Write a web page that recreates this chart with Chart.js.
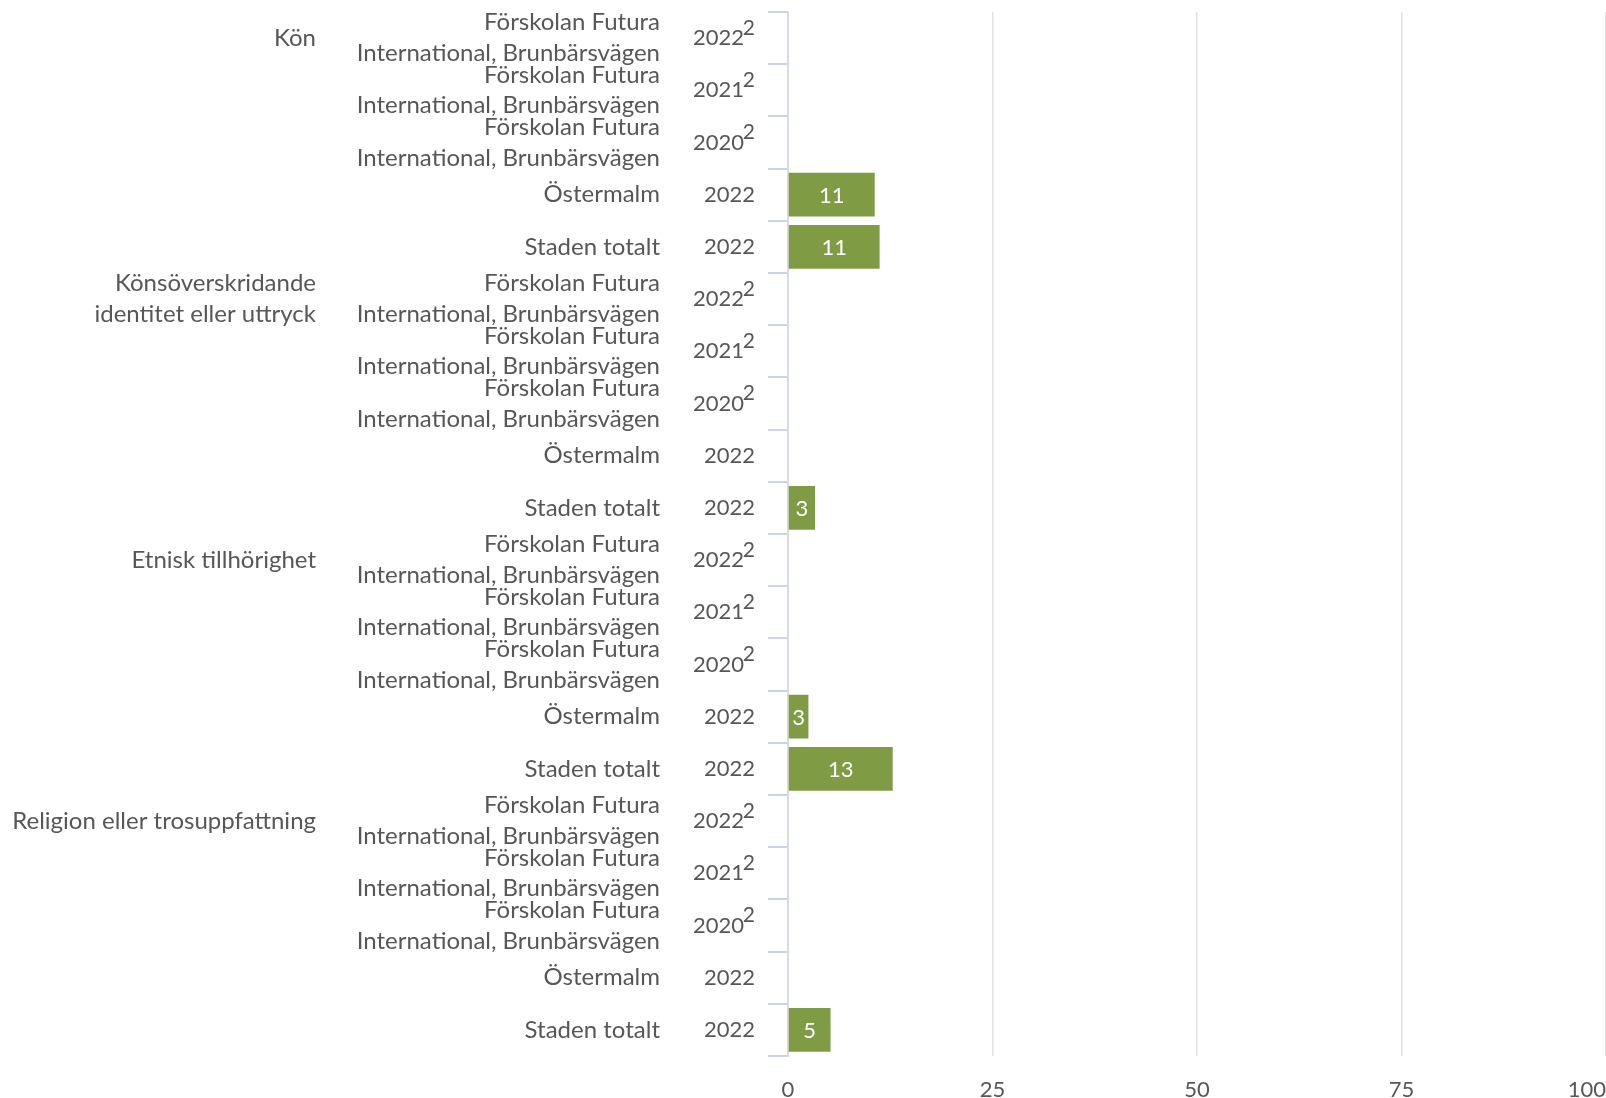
<!DOCTYPE html>
<html>
<head>
<meta charset="utf-8">
<script src="https://cdn.jsdelivr.net/npm/chart.js@4.4.1/dist/chart.umd.min.js"></script>
<style>
    html, body { margin: 0; padding: 0; background: #fff; }
    #wrap { width: 1606px; height: 1098px; }
</style>
</head>
<body>
<div id="wrap"><canvas id="diskriminering-chart"></canvas></div>
<script>
/* Data */
const groupLabels = ['Kön', ['Könsöverskridande', 'identitet eller uttryck'], 'Etnisk tillhörighet', 'Religion eller trosuppfattning'];
const unitLabels = [
    ['Förskolan Futura', 'International, Brunbärsvägen'],
    ['Förskolan Futura', 'International, Brunbärsvägen'],
    ['Förskolan Futura', 'International, Brunbärsvägen'],
    'Östermalm',
    'Staden totalt'
];
const yearLabels = ['2022²', '2021²', '2020²', '2022', '2022'];

const konValues = [null, null, null, 10.6, 11.2];
const konsoverskridandeValues = [null, null, null, null, 3.3];
const etniskValues = [null, null, null, 2.5, 12.8];
const religionValues = [null, null, null, null, 5.2];

const xTicks = [0, 25, 50, 75, 100];

/* Build the row lists (one row per unit and year in every group) */
const rowYears = [];
const rowUnits = [];
const rowGroups = [];
groupLabels.forEach(function (g) {
    yearLabels.forEach(function (y, i) {
        rowYears.push(y);
        rowUnits.push(unitLabels[i]);
        rowGroups.push(i === 0 ? g : '');
    });
});
const rowValues = [].concat(konValues, konsoverskridandeValues, etniskValues, religionValues);

const textColor = '#575757';
const fontFamily = 'Lato, "Open Sans", sans-serif';
const yearTickLength = 20;
const yearPadding = 13;

/* Write the rounded value in the middle of each bar */
const barValuePlugin = {
    id: 'barValues',
    afterDatasetsDraw(chart) {
        const ctx = chart.ctx;
        const meta = chart.getDatasetMeta(0);
        ctx.save();
        ctx.fillStyle = '#ffffff';
        ctx.font = '22px ' + fontFamily;
        ctx.textAlign = 'center';
        ctx.textBaseline = 'middle';
        meta.data.forEach(function (bar, i) {
            const v = chart.data.datasets[0].data[i];
            if (v === null) return;
            const c = bar.getCenterPoint();
            ctx.fillText(String(Math.round(v)), c.x, c.y + 1);
        });
        ctx.restore();
    }
};

/* Draw the footnote mark (²) after the year labels as a raised digit */
const footnotePlugin = {
    id: 'footnotes',
    afterDraw(chart) {
        const scale = chart.scales.y;
        const ctx = chart.ctx;
        ctx.save();
        ctx.fillStyle = textColor;
        ctx.font = '21px ' + fontFamily;
        ctx.textAlign = 'right';
        ctx.textBaseline = 'middle';
        chart.data.labels.forEach(function (label, i) {
            if (label.indexOf('²') < 0) return;
            const y = scale.getPixelForTick(i);
            ctx.fillText('2', scale.right - yearTickLength - yearPadding, y - 10);
        });
        ctx.restore();
    }
};

function fixWidth(w) {
    return function (scale) {
        scale.width = w;
        scale.paddingTop = 0;
        scale.paddingBottom = 0;
    };
}

const ctx = document.getElementById('diskriminering-chart');
const chart = new Chart(ctx, {
    type: 'bar',
    data: {
        labels: rowYears,
        datasets: [{
            data: rowValues,
            backgroundColor: '#7f9c45',
            barPercentage: 0.84,
            categoryPercentage: 1.0,
            yAxisID: 'y'
        }]
    },
    options: {
        indexAxis: 'y',
        responsive: true,
        maintainAspectRatio: false,
        animation: false,
        layout: { padding: { top: 12, right: 0, bottom: 0, left: 0 } },
        plugins: {
            legend: { display: false },
            tooltip: { enabled: false }
        },
        scales: {
            x: {
                min: 0,
                max: 100,
                afterBuildTicks: function (scale) {
                    scale.ticks = xTicks.map(function (v) { return { value: v }; });
                },
                afterFit: function (scale) {
                    scale.height = 42;
                    scale.paddingLeft = 0;
                    scale.paddingRight = 0;
                },
                border: { display: false },
                grid: { color: '#e3e3e3', lineWidth: 1.5, drawTicks: false },
                ticks: {
                    color: textColor,
                    font: { family: fontFamily, size: 22 },
                    padding: 21,
                    maxRotation: 0,
                    callback: function (value, index, ticks) {
                        const s = String(value);
                        // the last label sits inside the right edge
                        return index === ticks.length - 1 ? s + '\u2007'.repeat(s.length) : s;
                    }
                }
            },
            y: {
                type: 'category',
                position: 'left',
                weight: 0,
                offset: true,
                afterFit: fixWidth(118),
                border: { display: true, color: '#d8dbe3', width: 2 },
                grid: {
                    offset: true,
                    drawOnChartArea: false,
                    tickLength: yearTickLength,
                    color: '#c9d3ea',
                    lineWidth: 2
                },
                ticks: {
                    color: textColor,
                    font: { family: fontFamily, size: 22 },
                    padding: yearPadding,
                    autoSkip: false,
                    callback: function (value, index) {
                        const label = this.getLabelForValue(value);
                        // leave room for the raised footnote digit
                        return label.indexOf('²') < 0 ? label : label.replace('²', '\u2002');
                    }
                }
            },
            yUnit: {
                type: 'category',
                labels: rowUnits,
                position: 'left',
                weight: 1,
                offset: true,
                afterFit: fixWidth(344),
                border: { display: false },
                grid: { display: false, drawTicks: false, tickLength: 0 },
                ticks: {
                    color: textColor,
                    font: { family: fontFamily, size: 24, lineHeight: 1.28 },
                    padding: 10,
                    autoSkip: false
                }
            },
            yGroup: {
                type: 'category',
                labels: rowGroups,
                position: 'left',
                weight: 2,
                offset: true,
                afterFit: fixWidth(326),
                border: { display: false },
                grid: { display: false, drawTicks: false, tickLength: 0 },
                ticks: {
                    color: textColor,
                    font: { family: fontFamily, size: 24, lineHeight: 1.28 },
                    padding: 10,
                    autoSkip: false
                }
            }
        }
    },
    plugins: [barValuePlugin, footnotePlugin]
});
</script>
</body>
</html>
